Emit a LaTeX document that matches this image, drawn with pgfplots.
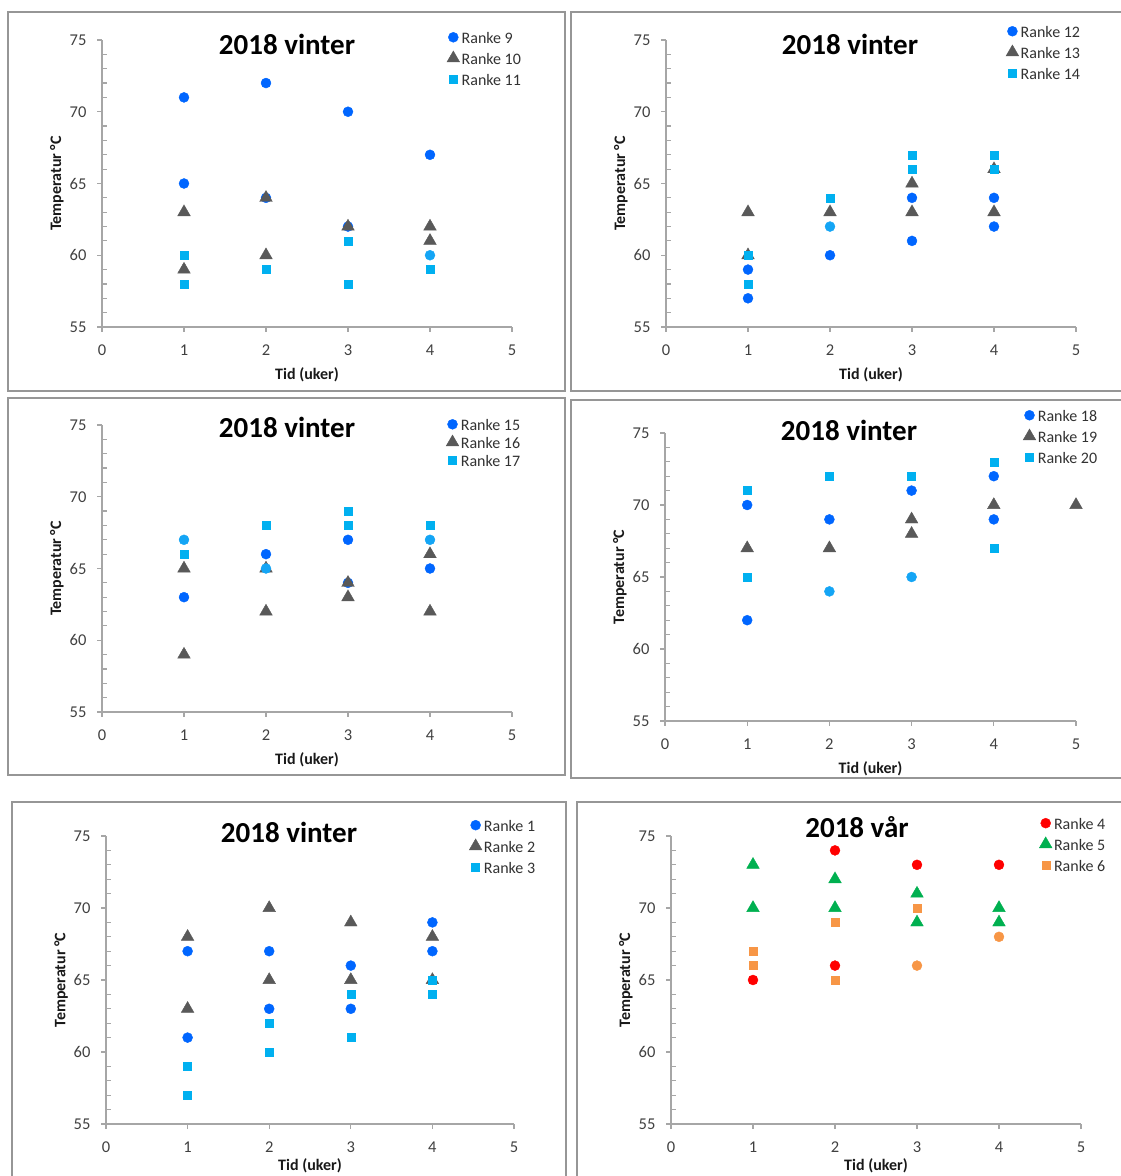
\documentclass[border=0pt]{standalone}
\usepackage{pgfplots}
\pgfplotsset{compat=1.18}
\usepackage{fontspec}
\setmainfont{Carlito}
\definecolor{cblue}{RGB}{0,102,255}
\definecolor{cgray}{RGB}{89,89,89}
\definecolor{clblue}{RGB}{0,176,240}
\definecolor{clblue2}{RGB}{20,165,245}
\definecolor{cred}{RGB}{255,0,0}
\definecolor{cgreen}{RGB}{0,176,80}
\definecolor{corange}{RGB}{247,150,70}
\definecolor{axgray}{RGB}{166,166,166}
\definecolor{frgray}{RGB}{150,150,150}
\definecolor{tickgray}{RGB}{64,64,64}
\definecolor{txtgray}{RGB}{50,50,50}
\pgfplotsset{
  panel/.style={
    scale only axis, width=410pt, height=287pt,
    xmin=0, xmax=5, ymin=55, ymax=75,
    xtick={0,1,2,3,4,5}, ytick={55,60,65,70,75}, minor y tick num=4,
    axis lines*=left, clip=false,
    axis line style={draw=axgray, line width=1.2pt},
    tick style={draw=axgray, line width=1.2pt},
    major tick length=5pt, minor tick length=5pt, tick align=outside,
    minor y tick style={xshift=5pt},
    /pgf/number format/assume math mode=true,
    ticklabel style={font=\fontsize{16.5}{19}\selectfont, text=tickgray},
    xticklabel style={yshift=-9pt},
    yticklabel style={xshift=-7pt},
    xlabel={Tid (uker)}, ylabel={Temperatur °C},
    xlabel style={at={(axis description cs:0.5,-0.167)}, anchor=center, font=\bfseries\fontsize{16}{19}\selectfont, text=black!90},
    ylabel style={at={(axis description cs:-0.11,0.5)}, anchor=center, rotate=0, font=\bfseries\fontsize{16}{19}\selectfont, text=black!90},
    legend style={draw=none, fill=none, font=\fontsize{16}{19}\selectfont, text=txtgray,
      inner sep=0pt, row sep=5pt, anchor=north west,
      nodes={inner sep=2pt, text height=12pt, text depth=0pt}},
    legend cell align=left,
    legend image code/.code={\draw[##1] plot coordinates {(0pt,0pt)};},
  },
  sc/.style={only marks, mark=*, mark size=5pt, color=#1, mark options={fill=#1, draw=#1}},
  st/.style={only marks, mark=triangle*, mark size=7.3pt, color=#1, mark options={fill=#1, draw=#1}},
  ss/.style={only marks, mark=square*, mark size=4pt, color=#1, mark options={fill=#1, draw=#1}},
}
\begin{document}
\begin{tikzpicture}[x=1pt,y=1pt]
\useasboundingbox (0,0) rectangle (1120,1176);
% panel frames
\draw[frgray, line width=1.5pt] (8,785) rectangle (565,1164);
\draw[frgray, line width=1.5pt] (571,785) rectangle (1130,1164);
\draw[frgray, line width=1.5pt] (8,401) rectangle (565,778);
\draw[frgray, line width=1.5pt] (571,398) rectangle (1130,776);
\draw[frgray, line width=1.5pt] (12,-10) rectangle (566,374);
\draw[frgray, line width=1.5pt] (577,-10) rectangle (1130,374);

% Panel 1
\begin{axis}[panel, at={(102pt,849pt)}, anchor=south west,
  legend style={at={(axis description cs:0.841,1.038)}}]
\addplot[sc=cblue] coordinates {(1,71)(1,65)(2,72)(2,64)(3,70)(3,62)(4,67)};
\addlegendentry{Ranke 9}
\addplot[st=cgray] coordinates {(1,63)(1,59)(2,64)(2,60)(3,62)(4,62)(4,61)};
\addlegendentry{Ranke 10}
\addplot[ss=clblue] coordinates {(1,60)(1,58)(2,59)(3,61)(3,58)(4,59)};
\addlegendentry{Ranke 11}
\addplot[sc=clblue2, forget plot] coordinates {(4,60)};
\end{axis}
\node[font=\bfseries\fontsize{29}{34}\selectfont, anchor=base] at (287,1121) {2018 vinter};

% Panel 2
\begin{axis}[panel, at={(666pt,849pt)}, anchor=south west,
  legend style={at={(axis description cs:0.829,1.059)}}]
\addplot[sc=cblue] coordinates {(1,59)(1,57)(2,60)(3,64)(3,61)(4,64)(4,62)};
\addlegendentry{Ranke 12}
\addplot[st=cgray] coordinates {(1,63)(1,60)(2,63)(3,65)(3,63)(4,66)(4,63)};
\addlegendentry{Ranke 13}
\addplot[ss=clblue] coordinates {(1,60)(1,58)(2,64)(3,67)(3,66)(4,67)(4,66)};
\addlegendentry{Ranke 14}
\addplot[sc=clblue2, forget plot] coordinates {(2,62)};
\end{axis}
\node[font=\bfseries\fontsize{29}{34}\selectfont, anchor=base] at (850,1121) {2018 vinter};

% Panel 3
\begin{axis}[panel, at={(102pt,464pt)}, anchor=south west,
  legend style={at={(axis description cs:0.839,1.031)}, row sep=2pt}]
\addplot[sc=cblue] coordinates {(1,63)(2,66)(3,67)(3,64)(4,65)};
\addlegendentry{Ranke 15}
\addplot[st=cgray] coordinates {(1,65)(1,59)(2,65)(2,62)(3,64)(3,63)(4,66)(4,62)};
\addlegendentry{Ranke 16}
\addplot[ss=clblue] coordinates {(1,66)(2,68)(3,69)(3,68)(4,68)};
\addlegendentry{Ranke 17}
\addplot[sc=clblue2, forget plot] coordinates {(1,67)(2,65)(4,67)};
\end{axis}
\node[font=\bfseries\fontsize{29}{34}\selectfont, anchor=base] at (287,738) {2018 vinter};

% Panel 4
\begin{axis}[panel, width=411pt, height=288pt, at={(665pt,455pt)}, anchor=south west,
  legend style={at={(axis description cs:0.871,1.090)}}]
\addplot[sc=cblue] coordinates {(1,70)(1,62)(2,69)(3,71)(4,72)(4,69)};
\addlegendentry{Ranke 18}
\addplot[st=cgray] coordinates {(1,67)(2,67)(3,69)(3,68)(4,70)(5,70)};
\addlegendentry{Ranke 19}
\addplot[ss=clblue] coordinates {(1,71)(1,65)(2,72)(3,72)(4,73)(4,67)};
\addlegendentry{Ranke 20}
\addplot[sc=clblue2, forget plot] coordinates {(2,64)(3,65)};
\end{axis}
\node[font=\bfseries\fontsize{29}{34}\selectfont, anchor=base] at (849,735) {2018 vinter};

% Panel 5
\begin{axis}[panel, width=408pt, height=288pt, at={(106pt,52pt)}, anchor=south west,
  xlabel style={at={(axis description cs:0.5,-0.145)}},
  legend style={at={(axis description cs:0.890,1.066)}}]
\addplot[sc=cblue] coordinates {(1,67)(1,61)(2,67)(2,63)(3,66)(3,63)(4,69)(4,67)};
\addlegendentry{Ranke 1}
\addplot[st=cgray] coordinates {(1,68)(1,63)(2,70)(2,65)(3,69)(3,65)(4,68)(4,65)};
\addlegendentry{Ranke 2}
\addplot[ss=clblue] coordinates {(1,59)(1,57)(2,62)(2,60)(3,64)(3,61)(4,65)(4,64)};
\addlegendentry{Ranke 3}
\end{axis}
\node[font=\bfseries\fontsize{29}{34}\selectfont, anchor=base] at (289,333) {2018 vinter};

% Panel 6
\begin{axis}[panel, width=410pt, height=288pt, at={(671pt,52pt)}, anchor=south west,
  xlabel style={at={(axis description cs:0.5,-0.145)}},
  legend style={at={(axis description cs:0.898,1.073)}}]
\addplot[sc=cred] coordinates {(1,65)(2,74)(2,66)(3,73)(4,73)};
\addlegendentry{Ranke 4}
\addplot[st=cgreen] coordinates {(1,73)(1,70)(2,72)(2,70)(3,71)(3,69)(4,70)(4,69)};
\addlegendentry{Ranke 5}
\addplot[ss=corange] coordinates {(1,67)(1,66)(2,69)(2,65)(3,70)};
\addlegendentry{Ranke 6}
\addplot[sc=corange, forget plot] coordinates {(3,66)(4,68)};
\end{axis}
\node[font=\bfseries\fontsize{29}{34}\selectfont, anchor=base] at (857,338) {2018 vår};
\end{tikzpicture}
\end{document}
